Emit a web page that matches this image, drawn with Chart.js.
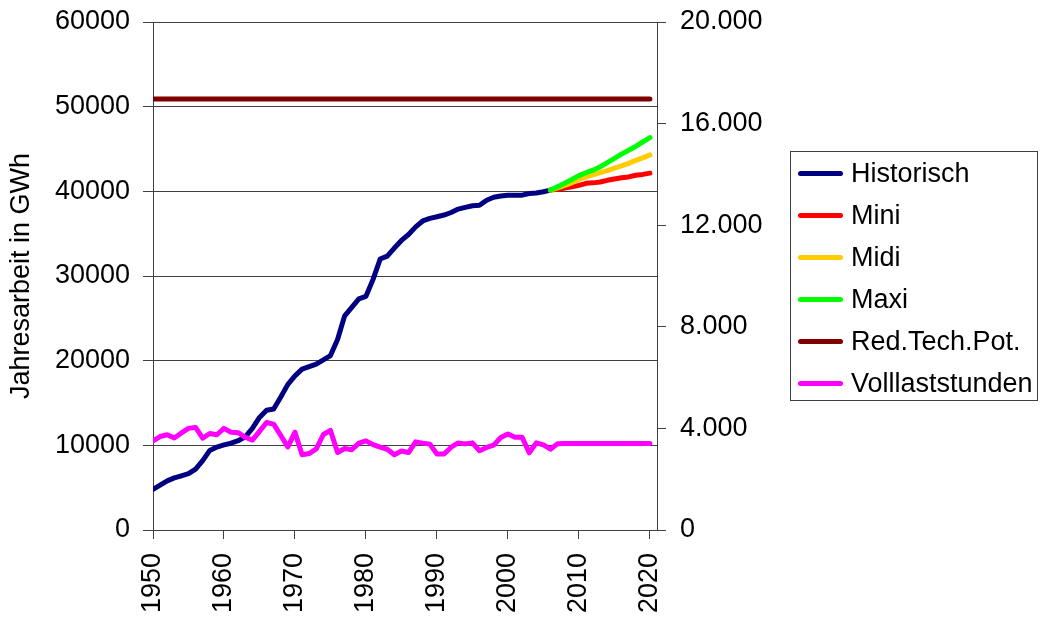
<!DOCTYPE html>
<html lang="de">
<head>
<meta charset="utf-8">
<script src="https://cdn.jsdelivr.net/npm/chart.js@4.4.1/dist/chart.umd.min.js"></script>
<style>
  html, body { margin: 0; padding: 0; background: #fff; }
  #wrap { position: relative; width: 1040px; height: 619px; }
  #legend {
    position: absolute; left: 790px; top: 151px; width: 248px; height: 250px;
    border: 1px solid #404040; box-sizing: border-box;
    font-family: "Liberation Sans", Arial, sans-serif; font-size: 27px; color: #000;
  }
  .item { height: 42px; line-height: 42px; display: flex; align-items: center; }
  .swatch { width: 45px; height: 5px; border-radius: 3px; margin-left: 7px; margin-right: 8px; }
</style>
</head>
<body>
<div id="wrap">
  <canvas id="chart" width="1040" height="619"></canvas>
  <div id="legend"></div>
</div>
<script>
// Jahre (Kategorien)
const years = Array.from({ length: 71 }, (_, i) => 1950 + i);
const decadeTicks = [1950, 1960, 1970, 1980, 1990, 2000, 2010, 2020];
const leftTicks = [0, 10000, 20000, 30000, 40000, 50000, 60000];
const rightTicks = [0, 4000, 8000, 12000, 16000, 20000];

// Historische Jahresarbeit 1950-2006 in GWh
const historischStart = 1950;
const historisch = [
  4800, 5300, 5800, 6150, 6400, 6650, 7200, 8200, 9400, 9800,
  10050, 10250, 10550, 11000, 12000, 13300, 14150, 14300, 15700, 17200,
  18200, 19000, 19300, 19600, 20100, 20600, 22500, 25300, 26300, 27300,
  27600, 29600, 32000, 32350, 33300, 34200, 34900, 35800, 36500, 36800,
  37000, 37200, 37500, 37900, 38100, 38300, 38350, 38950, 39300, 39450,
  39550, 39550, 39550, 39750, 39800, 39950, 40150
];

// Szenarien 2006-2020 in GWh
const szenarioStart = 2006;
const mini = [40150, 40250, 40400, 40550, 40700, 40950, 41000, 41100, 41300, 41450, 41600, 41700, 41900, 42000, 42150];
const midi = [40150, 40400, 40700, 41000, 41400, 41700, 41950, 42200, 42450, 42750, 43000, 43300, 43650, 43950, 44300];
const maxi = [40150, 40550, 40950, 41400, 41850, 42200, 42500, 42900, 43400, 43900, 44400, 44850, 45300, 45850, 46350];

// Reduziertes technisches Potenzial (konstant)
const redTechPotYears = [1950, 2020];
const redTechPot = [50900, 50900];

// Volllaststunden 1950-2020 (rechte Achse)
const volllaststunden = [
  3510, 3680, 3750, 3620, 3820, 4000, 4040, 3620, 3800, 3750,
  4000, 3850, 3830, 3650, 3540, 3880, 4230, 4170, 3720, 3270,
  3850, 2960, 3010, 3190, 3760, 3920, 3050, 3210, 3160, 3420,
  3510, 3360, 3260, 3180, 2960, 3110, 3050, 3470, 3420, 3380,
  2990, 2990, 3260, 3430, 3390, 3430, 3120, 3250, 3340, 3640,
  3780, 3650, 3650, 3040, 3430, 3350, 3180, 3400, 3410, 3410,
  3410, 3410, 3410, 3410, 3410, 3410, 3410, 3410, 3410, 3410,
  3410
];

// Werte mit Startjahr zu Punkten machen
function toPoints(start, values) {
  return values.map((v, i) => ({ x: start + i, y: v }));
}

// Tausenderpunkt wie im Original
function formatDe(value) {
  return String(value).replace(/\B(?=(\d{3})+(?!\d))/g, ".");
}

function lineSet(label, data, color, order, axis) {
  return {
    label, data,
    borderColor: color, backgroundColor: color,
    borderWidth: 5, pointRadius: 0, tension: 0,
    borderCapStyle: "round", borderJoinStyle: "round",
    order, yAxisID: axis || "y",
  };
}

// feste Achsbreite, keine Zusatzpolster oben/unten
function fixVertical(width) {
  return (scale) => {
    scale.width = width;
    scale.paddingTop = 0;
    scale.paddingBottom = 0;
  };
}

Chart.defaults.font.family = '"Liberation Sans", Arial, sans-serif';
Chart.defaults.font.size = 27;
Chart.defaults.color = "#000";

const gridColor = "#404040";

const chart = new Chart(document.getElementById("chart"), {
  type: "line",
  data: {
    datasets: [
      lineSet("Historisch", toPoints(historischStart, historisch), "#000080", 5),
      lineSet("Mini", toPoints(szenarioStart, mini), "#ff0000", 4),
      lineSet("Midi", toPoints(szenarioStart, midi), "#ffcc00", 3),
      lineSet("Maxi", toPoints(szenarioStart, maxi), "#00ff00", 2),
      lineSet("Red.Tech.Pot.", redTechPot.map((v, i) => ({ x: redTechPotYears[i], y: v })), "#800000", 1),
      lineSet("Volllaststunden", toPoints(years[0], volllaststunden), "#ff00ff", 0, "y2"),
    ],
  },
  options: {
    responsive: false,
    animation: false,
    layout: { padding: { top: 22, left: 0, right: 0, bottom: 0 } },
    plugins: { legend: { display: false }, tooltip: { enabled: false } },
    scales: {
      x: {
        type: "linear",
        min: 1950,
        max: 2021,
        afterBuildTicks: (scale) => { scale.ticks = decadeTicks.map((v) => ({ value: v })); },
        afterFit: (scale) => { scale.height = 89; scale.paddingLeft = 0; scale.paddingRight = 0; },
        ticks: { minRotation: 90, maxRotation: 90, padding: 14, autoSkip: false, callback: (v) => String(v) },
        grid: { drawOnChartArea: false, tickLength: 9, color: gridColor, lineWidth: 1 },
        border: { color: gridColor, width: 1 },
      },
      y: {
        position: "left",
        min: 0,
        max: 60000,
        afterBuildTicks: (scale) => { scale.ticks = leftTicks.map((v) => ({ value: v })); },
        afterFit: fixVertical(153),
        ticks: { padding: 13, callback: (v) => String(v) },
        grid: { color: gridColor, lineWidth: 1, tickLength: 10 },
        border: { color: gridColor, width: 1 },
        title: { display: true, text: "Jahresarbeit in GWh", padding: { top: 5, bottom: 0 } },
      },
      y2: {
        position: "right",
        min: 0,
        max: 20000,
        afterBuildTicks: (scale) => { scale.ticks = rightTicks.map((v) => ({ value: v })); },
        afterFit: fixVertical(1040 - 657),
        ticks: { padding: 14, callback: (v) => formatDe(v) },
        grid: { drawOnChartArea: false, tickLength: 9, color: gridColor, lineWidth: 1 },
        border: { color: gridColor, width: 1 },
      },
    },
  },
});

// Legende als HTML aus den Datensätzen aufbauen
const legendBox = document.getElementById("legend");
chart.data.datasets.forEach((ds) => {
  const row = document.createElement("div");
  row.className = "item";
  row.innerHTML = `<span class="swatch" style="background:${ds.borderColor}"></span><span>${ds.label}</span>`;
  legendBox.appendChild(row);
});
</script>
</body>
</html>
